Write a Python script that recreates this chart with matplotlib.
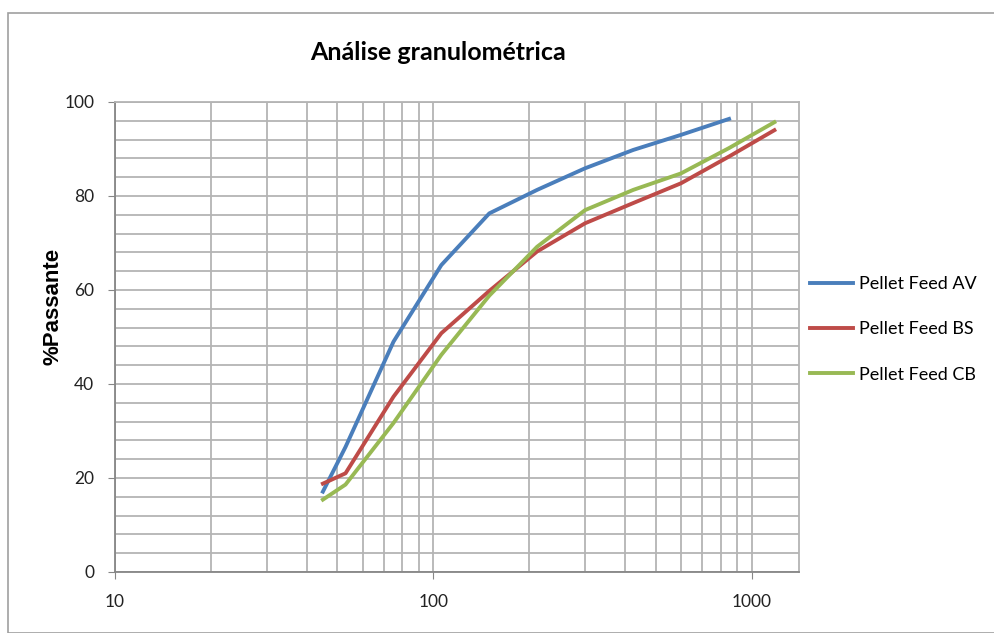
import matplotlib.pyplot as plt
from matplotlib.ticker import FixedLocator, NullFormatter
from matplotlib.patches import Rectangle

# abertura das peneiras (um) e % passante
abertura_av = [45, 53, 75, 106, 150, 212, 300, 425, 600, 850]
abertura = [45, 53, 75, 106, 150, 212, 300, 425, 600, 850, 1180]
passante_av = [17.1, 26.6, 49.0, 65.3, 76.3, 81.3, 85.9, 89.8, 93.0, 96.4]
passante_bs = [18.8, 21.0, 37.3, 50.8, 59.8, 68.2, 74.2, 78.5, 82.7, 88.4, 94.0]
passante_cb = [15.4, 18.6, 31.7, 46.2, 58.8, 69.2, 77.0, 81.3, 84.8, 90.2, 95.7]

nomes = ["Pellet Feed AV", "Pellet Feed BS", "Pellet Feed CB"]
cores = ["#4A7EBB", "#BE4B48", "#98B954"]

plt.rcParams['font.family'] = ['Lato', 'DejaVu Sans']

fig = plt.figure(figsize=(9.94, 6.33), dpi=100)
ax = fig.add_axes([115/994, 1 - 572/633, (799-115)/994, (572-102)/633])

ax.plot(abertura_av, passante_av, color=cores[0], lw=2.8, label=nomes[0])
ax.plot(abertura, passante_bs, color=cores[1], lw=2.8, label=nomes[1])
ax.plot(abertura, passante_cb, color=cores[2], lw=2.8, label=nomes[2])

ax.set_xscale('log')
ax.set_xlim(10, 1410)
ax.set_ylim(0, 100)

ax.xaxis.set_major_locator(FixedLocator([10, 100, 1000]))
ax.xaxis.set_minor_locator(FixedLocator([k * 10**e for e in (1, 2) for k in range(2, 10)]))
ax.xaxis.set_major_formatter(plt.FuncFormatter(lambda v, p: f"{v:g}"))
ax.xaxis.set_minor_formatter(NullFormatter())
ax.yaxis.set_major_locator(FixedLocator(range(0, 101, 20)))
ax.yaxis.set_minor_locator(FixedLocator(range(0, 101, 4)))

ax.grid(True, which='both', color='#B4B4B4', lw=1.3)
ax.set_axisbelow(True)
ax.tick_params(which='major', direction='out', length=5, color='#868686',
               labelsize=12.5, labelcolor='#222222')
ax.tick_params(which='minor', length=0)
ax.tick_params(axis='x', pad=11)
ax.tick_params(axis='y', pad=10)

for s in ('left', 'bottom'):
    ax.spines[s].set_color('#868686')
    ax.spines[s].set_linewidth(1.3)
for s in ('top', 'right'):
    ax.spines[s].set_color('#B4B4B4')
    ax.spines[s].set_linewidth(1.3)

fig.text(53/994, 1 - 306/633, "%Passante", family=['Liberation Sans', 'DejaVu Sans'],
         fontweight='bold', fontsize=16, rotation=90, ha='center', va='center')
fig.text(438/994, 1 - 52/633, "Análise granulométrica", ha='center', va='center',
         fontsize=18, fontweight='bold')

leg = fig.legend(loc='upper left', bbox_to_anchor=(810/994, 1 - 276/633), frameon=False,
                 fontsize=13, handlelength=2.4, handletextpad=0.3, labelspacing=1.62,
                 borderpad=0, borderaxespad=0)

fig.patches.append(Rectangle((8/994, 0), 1.0, 1 - 13/633, transform=fig.transFigure,
                             fill=False, edgecolor='#A0A0A0', lw=1.2))

fig.savefig("out.png", dpi=100)
